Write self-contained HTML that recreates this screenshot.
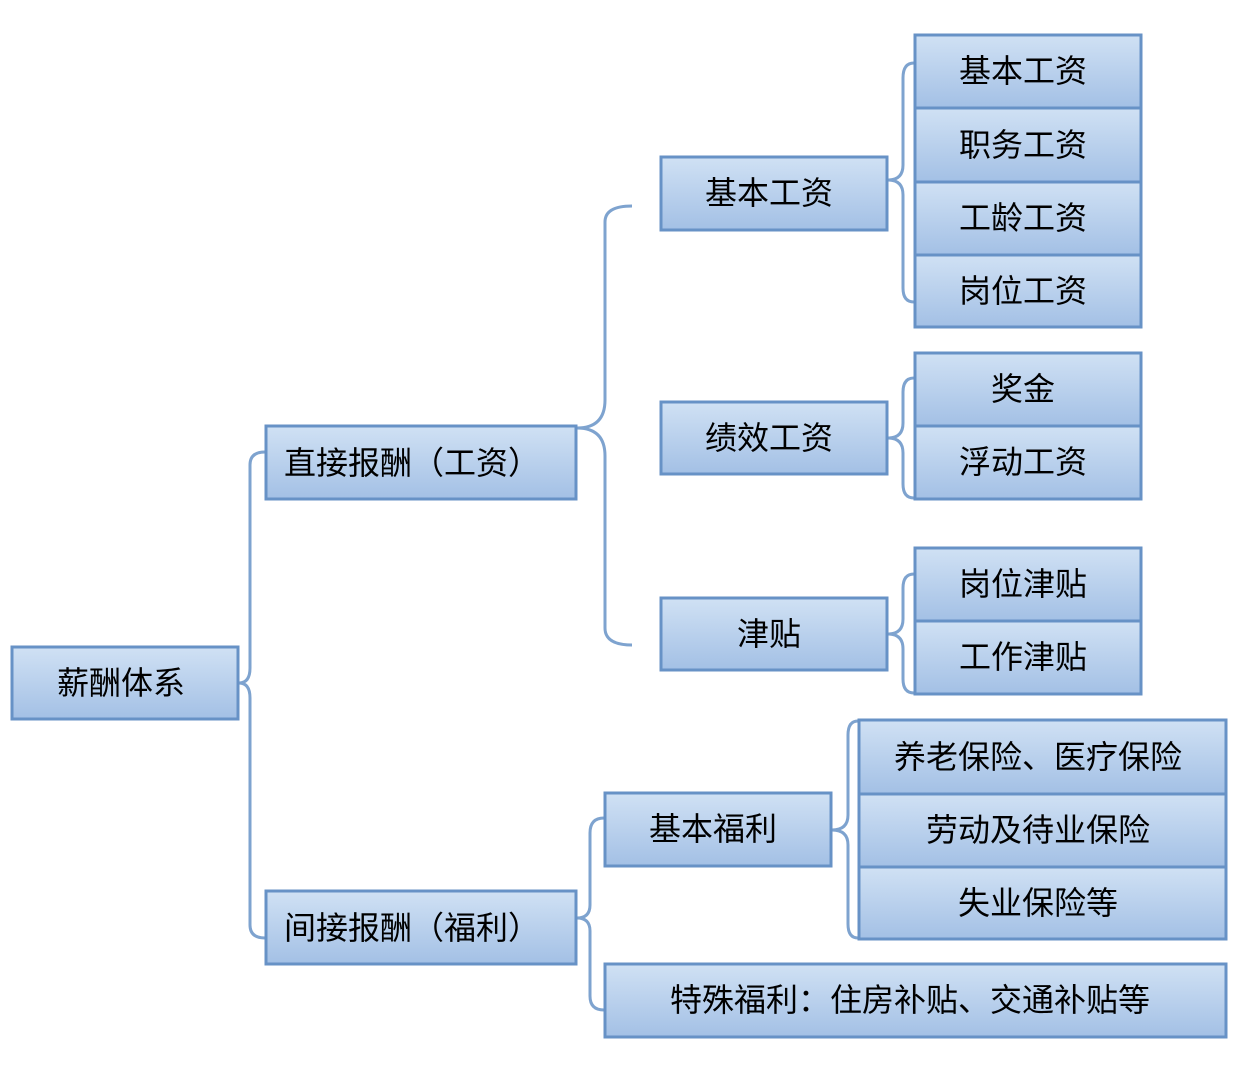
<!DOCTYPE html>
<html><head><meta charset="utf-8"><style>
html,body{margin:0;padding:0;background:#fff;}
svg text{font-family:"Liberation Sans","Noto Sans CJK SC","WenQuanYi Zen Hei",sans-serif;font-size:32px;fill:#000;text-anchor:middle;dominant-baseline:central;}
</style></head><body>
<svg width="1240" height="1068" viewBox="0 0 1240 1068" xmlns="http://www.w3.org/2000/svg">
<defs>
<linearGradient id="g" x1="0" y1="0" x2="0" y2="1">
<stop offset="0" stop-color="#d0e1f4"/><stop offset="1" stop-color="#a3c0e5"/>
</linearGradient>
</defs>
<g fill="none" stroke="#7ea3cf" stroke-width="3">
<path d="M239,683 Q250,683 250,668 L250,465 Q250,452 265,452"/>
<path d="M239,683 Q250,683 250,698 L250,925 Q250,938 265,938"/>
<path d="M577,428 Q605,428 605,400 L605,222 Q605,206 632,206"/>
<path d="M577,428 Q605,428 605,456 L605,628 Q605,645 632,645"/>
<path d="M888,180 Q903,180 903,165 L903,78 Q903,63 914,63"/>
<path d="M888,180 Q903,180 903,195 L903,288 Q903,302 914,302"/>
<path d="M888,438 Q903,438 903,423 L903,392 Q903,378 914,378"/>
<path d="M888,438 Q903,438 903,453 L903,484 Q903,498 914,498"/>
<path d="M888,634 Q903,634 903,619 L903,588 Q903,574 914,574"/>
<path d="M888,634 Q903,634 903,649 L903,679 Q903,693 914,693"/>
<path d="M577,918 Q590,918 590,905 L590,833 Q590,818 604,818"/>
<path d="M577,918 Q590,918 590,931 L590,996 Q590,1010 604,1010"/>
<path d="M832,830 Q848,830 848,815 L848,735 Q848,721 858,721"/>
<path d="M832,830 Q848,830 848,845 L848,924 Q848,938 858,938"/>
</g>
<g fill="url(#g)" stroke="#6792c6" stroke-width="3">
<rect x="12" y="647" width="226" height="72"/>
<rect x="266" y="426" width="310" height="73"/>
<rect x="266" y="891" width="310" height="73"/>
<rect x="661" y="157" width="226" height="73"/>
<rect x="661" y="402" width="226" height="72"/>
<rect x="661" y="598" width="226" height="72"/>
<rect x="915" y="35" width="226" height="73"/>
<rect x="915" y="108" width="226" height="74"/>
<rect x="915" y="182" width="226" height="73"/>
<rect x="915" y="255" width="226" height="72"/>
<rect x="915" y="353" width="226" height="73"/>
<rect x="915" y="426" width="226" height="73"/>
<rect x="915" y="548" width="226" height="73"/>
<rect x="915" y="621" width="226" height="73"/>
<rect x="605" y="793" width="226" height="73"/>
<rect x="859" y="720" width="367" height="74"/>
<rect x="859" y="794" width="367" height="73"/>
<rect x="859" y="867" width="367" height="72"/>
<rect x="605" y="964" width="621" height="73"/>
</g>
<text x="121" y="683">薪酬体系</text>
<text x="412" y="463">直接报酬（工资）</text>
<text x="412" y="928">间接报酬（福利）</text>
<text x="769" y="193">基本工资</text>
<text x="769" y="438">绩效工资</text>
<text x="769" y="634">津贴</text>
<text x="1023" y="71">基本工资</text>
<text x="1023" y="145">职务工资</text>
<text x="1023" y="218">工龄工资</text>
<text x="1023" y="291">岗位工资</text>
<text x="1023" y="389">奖金</text>
<text x="1023" y="462">浮动工资</text>
<text x="1023" y="584">岗位津贴</text>
<text x="1023" y="657">工作津贴</text>
<text x="713" y="829">基本福利</text>
<text x="1038" y="757">养老保险、医疗保险</text>
<text x="1038" y="830">劳动及待业保险</text>
<text x="1038" y="903">失业保险等</text>
<text x="910" y="1000">特殊福利：住房补贴、交通补贴等</text>
</svg>
</body></html>
